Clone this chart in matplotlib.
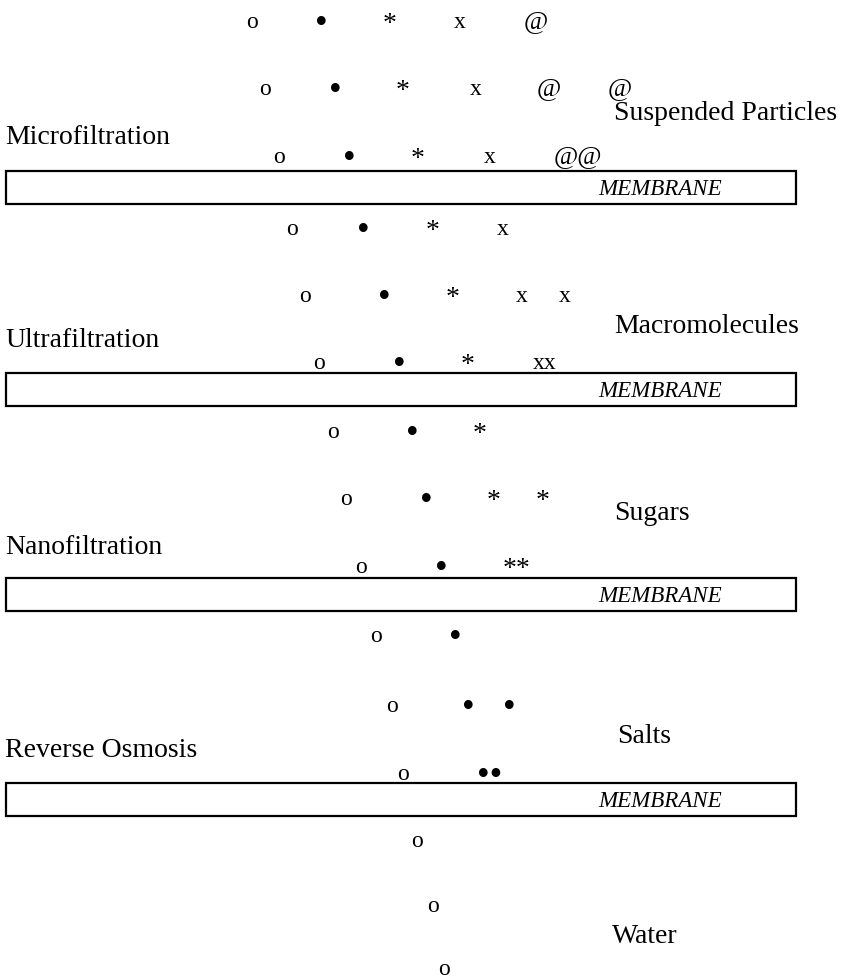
import matplotlib.pyplot as plt
from matplotlib.patches import Rectangle

plt.rcParams['font.family'] = ['Liberation Serif', 'DejaVu Serif']

# particle rows: baseline (px from top), symbols, x centres
row_baselines = [28, 95, 163, 235,
                 302, 369, 438,
                 505, 573, 642,
                 712, 780, 847, 912, 975]
row_symbols = [
    ["o", "•", "*", "x", "@"],
    ["o", "•", "*", "x", "@", "@"],
    ["o", "•", "*", "x", "@@"],
    ["o", "•", "*", "x"],
    ["o", "•", "*", "x", "x"],
    ["o", "•", "*", "xx"],
    ["o", "•", "*"],
    ["o", "•", "*", "*"],
    ["o", "•", "**"],
    ["o", "•"],
    ["o", "•", "•"],
    ["o", "••"],
    ["o"],
    ["o"],
    ["o"],
]
row_xs = [
    [252, 321, 390, 460, 536],
    [265, 335, 403, 476, 549, 620],
    [279, 349, 418, 490, 578],
    [292, 363, 433, 503],
    [305, 384, 453, 522, 565],
    [319, 399, 468, 545],
    [333, 412, 480],
    [346, 426, 494, 543],
    [361, 441, 517],
    [376, 455],
    [392, 468, 509],
    [403, 490],
    [417],
    [433],
    [444],
]

processes = ["Microfiltration", "Ultrafiltration", "Nanofiltration", "Reverse Osmosis"]
process_baselines = [144, 347, 554, 757]
membrane_tops = [171, 373, 578, 783]

retained = ["Suspended Particles", "Macromolecules", "Sugars", "Salts", "Water"]
retained_x = [614, 614, 614, 617, 612]
retained_baselines = [120, 333, 520, 743, 943]

# glyph size and baseline nudge per symbol
sym_size = {"o": 17, "x": 17, "*": 20, "@": 19, "•": 26}
sym_shift = {"o": 0, "x": 0, "*": 3, "@": 0, "•": 5}

fig = plt.figure(figsize=(8.44, 9.8), dpi=100)
ax = fig.add_axes([0, 0, 1, 1])
ax.set_xlim(0, 844)
ax.set_ylim(980, 0)
ax.axis('off')

for y, syms, xs in zip(row_baselines, row_symbols, row_xs):
    for s, x in zip(syms, xs):
        ax.text(x, y + sym_shift[s[0]], s, fontsize=sym_size[s[0]],
                ha='center', va='baseline')

for name, y, top in zip(processes, process_baselines, membrane_tops):
    ax.text(5, y, name, fontsize=20, ha='left', va='baseline')
    ax.add_patch(Rectangle((6, top), 790, 33, fill=False, edgecolor='black', linewidth=1.6))
    ax.text(722, top + 24, "MEMBRANE", fontsize=16.6, style='italic', ha='right', va='baseline')

for name, x, y in zip(retained, retained_x, retained_baselines):
    ax.text(x, y, name, fontsize=20, ha='left', va='baseline')

fig.savefig('out.png', dpi=100)
